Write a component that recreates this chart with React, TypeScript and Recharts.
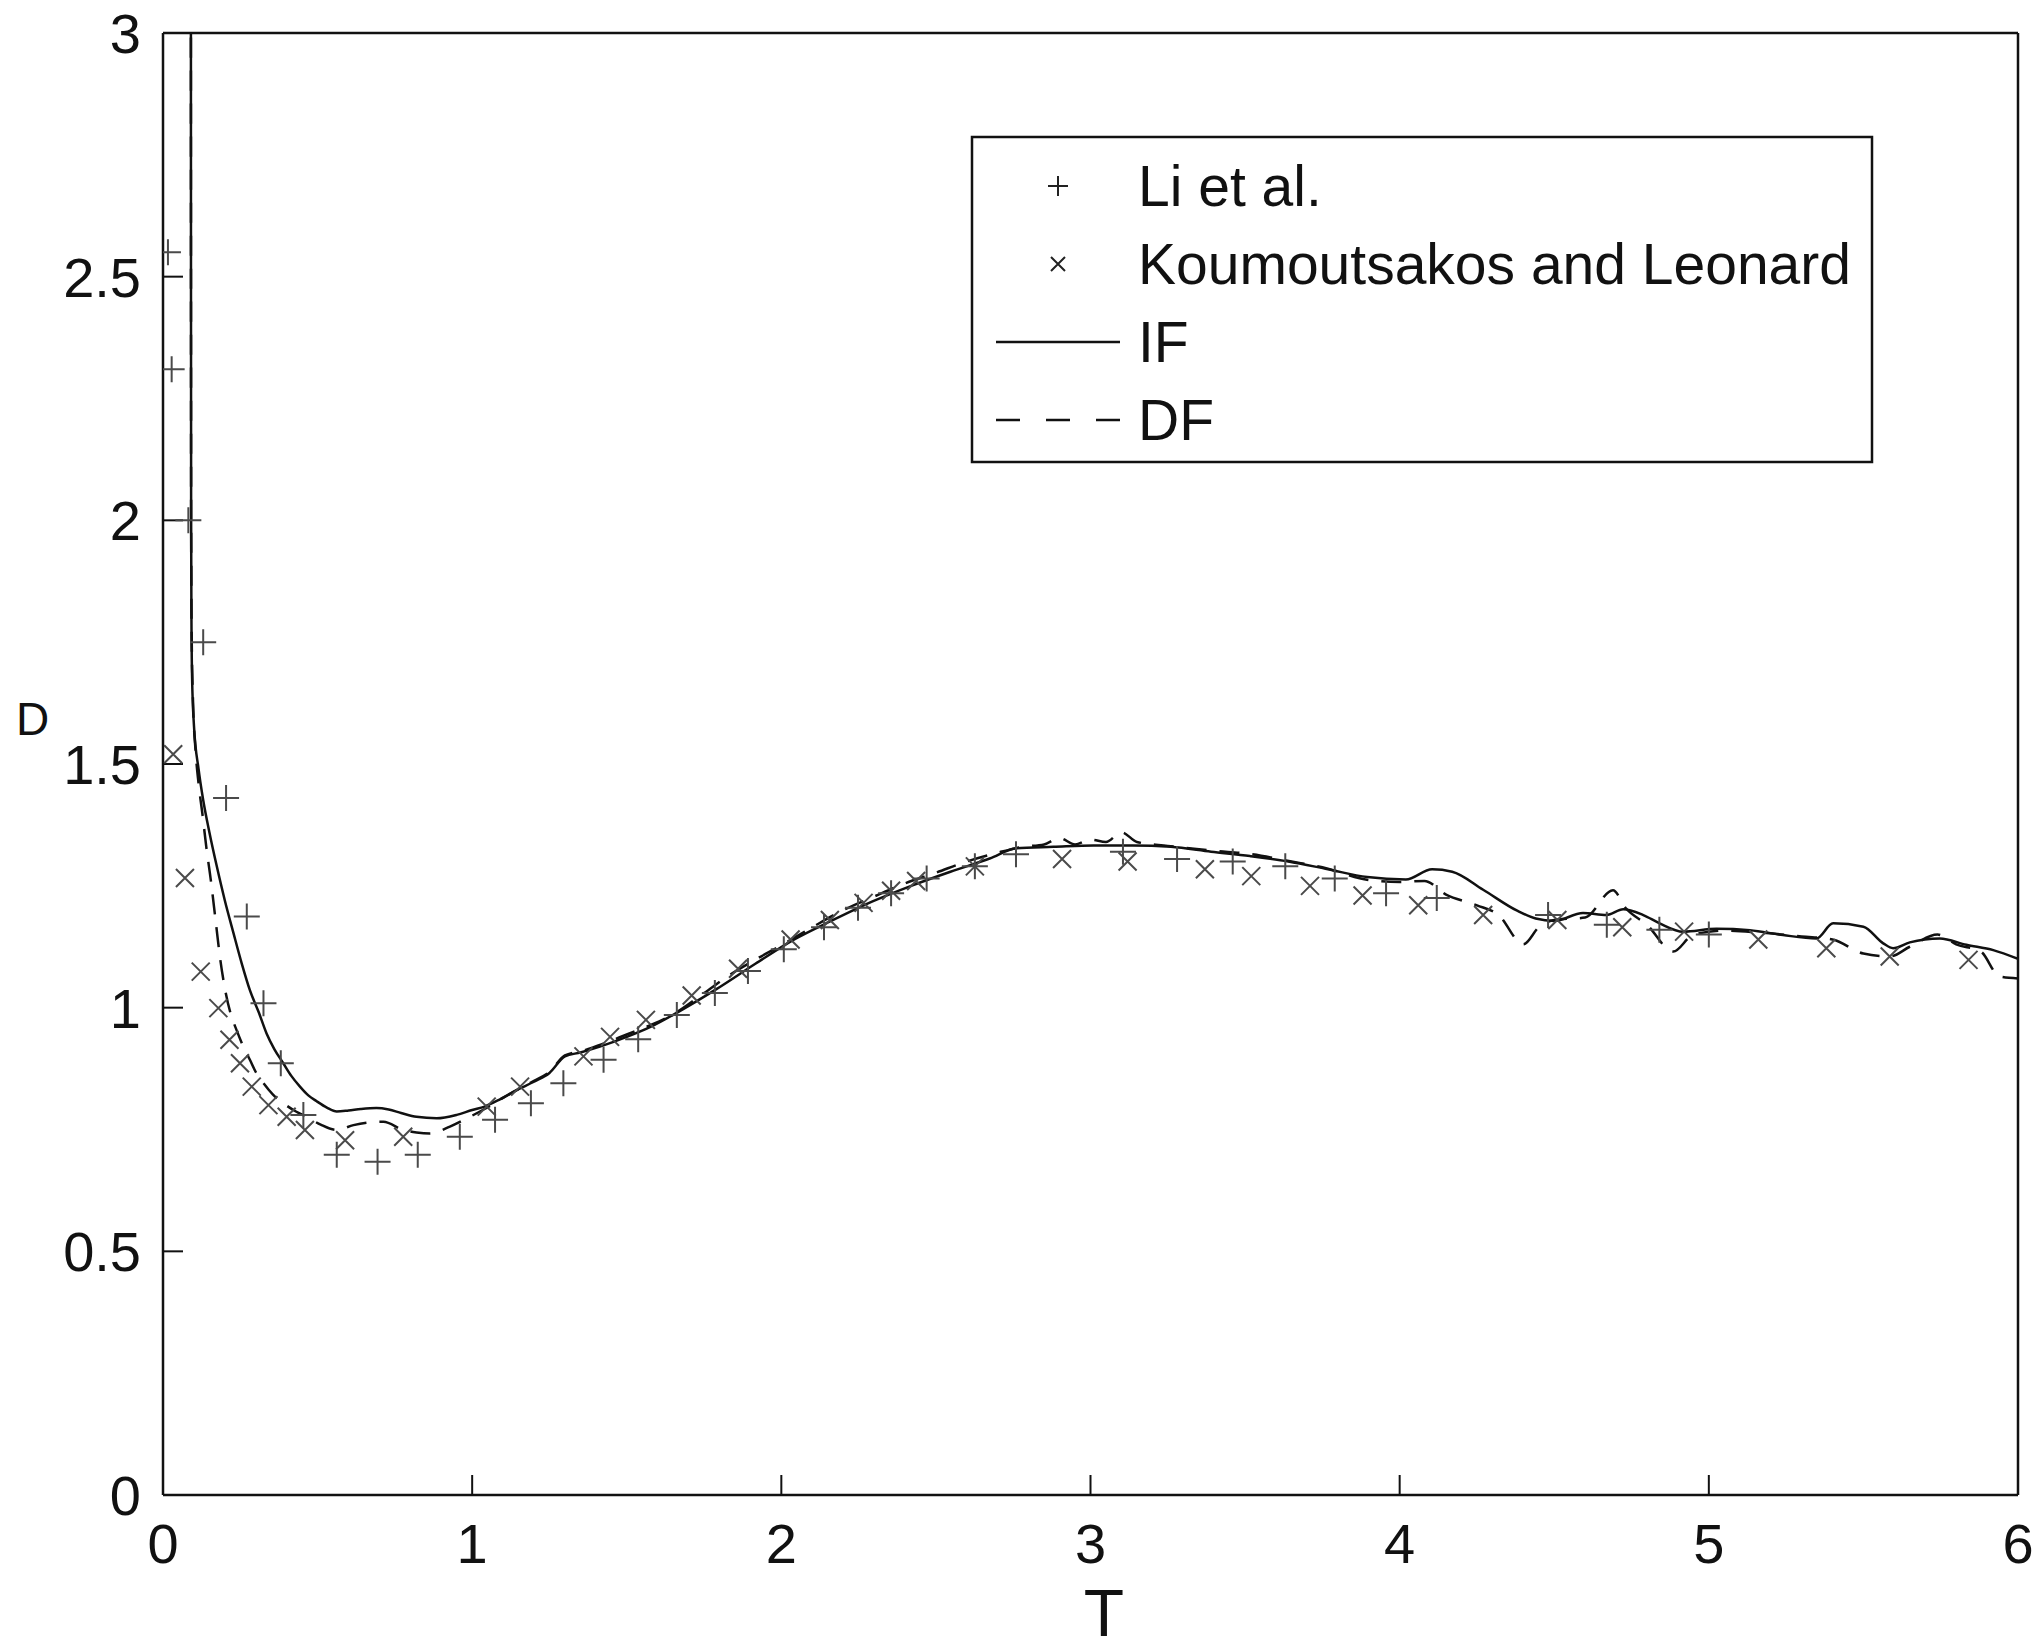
import React from 'react';
import { ComposedChart, Line, Scatter, XAxis, YAxis } from 'recharts';

// axis ticks
const xTicks = [0, 1, 2, 3, 4, 5, 6];
const yTicks = [0, 0.5, 1, 1.5, 2, 2.5, 3];

// IF (solid)
const ifT = [0.09, 0.0905, 0.091, 0.092, 0.094, 0.1, 0.115, 0.13, 0.15, 0.174, 0.2, 0.228, 0.255, 0.281, 0.31, 0.335, 0.36, 0.389, 0.415, 0.443, 0.47, 0.497, 0.53, 0.562, 0.6, 0.64, 0.69, 0.73, 0.77, 0.82, 0.885, 0.95, 1.0, 1.04, 1.09, 1.144, 1.2, 1.25, 1.3, 1.35, 1.413, 1.5, 1.575, 1.663, 1.79, 1.916, 2.042, 2.168, 2.295, 2.42, 2.547, 2.674, 2.76, 2.88, 3.01, 3.137, 3.26, 3.39, 3.516, 3.64, 3.768, 3.895, 4.02, 4.105, 4.17, 4.27, 4.38, 4.44, 4.5, 4.593, 4.669, 4.723, 4.788, 4.841, 4.917, 5.025, 5.133, 5.24, 5.348, 5.402, 5.5, 5.564, 5.596, 5.65, 5.747, 5.833, 5.92, 6.0];
const ifV = [3.6, 2.5, 2.0, 1.8, 1.68, 1.58, 1.49, 1.426, 1.36, 1.29, 1.22, 1.153, 1.09, 1.036, 0.99, 0.947, 0.915, 0.886, 0.86, 0.838, 0.82, 0.808, 0.795, 0.787, 0.789, 0.792, 0.794, 0.791, 0.784, 0.776, 0.773, 0.78, 0.79, 0.797, 0.812, 0.831, 0.848, 0.866, 0.9, 0.908, 0.92, 0.94, 0.96, 0.99, 1.038, 1.09, 1.14, 1.18, 1.218, 1.25, 1.279, 1.306, 1.327, 1.33, 1.333, 1.333, 1.33, 1.32, 1.311, 1.3, 1.284, 1.268, 1.263, 1.284, 1.279, 1.242, 1.199, 1.183, 1.178, 1.194, 1.19, 1.202, 1.19, 1.173, 1.156, 1.162, 1.159, 1.149, 1.142, 1.173, 1.166, 1.132, 1.122, 1.134, 1.142, 1.129, 1.118, 1.1];

// DF (dashed)
const dfT = [0.09, 0.0905, 0.091, 0.093, 0.097, 0.105, 0.115, 0.127, 0.14, 0.155, 0.17, 0.185, 0.2, 0.22, 0.238, 0.26, 0.281, 0.3, 0.325, 0.355, 0.389, 0.43, 0.465, 0.51, 0.562, 0.616, 0.66, 0.713, 0.777, 0.82, 0.863, 0.928, 0.98, 1.04, 1.1, 1.15, 1.2, 1.25, 1.3, 1.36, 1.42, 1.5, 1.58, 1.66, 1.75, 1.84, 1.92, 2.0, 2.1, 2.2, 2.3, 2.4, 2.5, 2.6, 2.7, 2.78, 2.85, 2.9, 2.95, 3.0, 3.05, 3.1, 3.15, 3.25, 3.4, 3.52, 3.65, 3.75, 3.9, 4.0, 4.08, 4.15, 4.25, 4.32, 4.4, 4.45, 4.5, 4.6, 4.69, 4.73, 4.8, 4.885, 4.95, 5.05, 5.186, 5.3, 5.4, 5.5, 5.585, 5.65, 5.74, 5.8, 5.88, 5.94, 6.0];
const dfV = [3.6, 2.5, 2.0, 1.75, 1.63, 1.53, 1.46, 1.4, 1.33, 1.26, 1.18, 1.1, 1.04, 0.985, 0.954, 0.92, 0.893, 0.868, 0.845, 0.822, 0.804, 0.787, 0.776, 0.76, 0.749, 0.759, 0.764, 0.766, 0.749, 0.744, 0.742, 0.756, 0.772, 0.792, 0.815, 0.833, 0.85, 0.868, 0.902, 0.912, 0.925, 0.945, 0.965, 0.99, 1.03, 1.07, 1.1, 1.128, 1.165, 1.2, 1.228, 1.255, 1.277, 1.3, 1.318, 1.33, 1.335, 1.348, 1.335, 1.345, 1.34, 1.36, 1.34, 1.332, 1.322, 1.315, 1.3, 1.288, 1.262, 1.258, 1.26, 1.232, 1.21, 1.19, 1.13, 1.165, 1.18, 1.185, 1.241, 1.205, 1.17, 1.115, 1.15, 1.158, 1.153, 1.146, 1.14, 1.111, 1.105, 1.125, 1.15, 1.13, 1.115, 1.064, 1.06];

// Li et al. (+)
const liT = [0.016, 0.028, 0.082, 0.13, 0.204, 0.271, 0.325, 0.381, 0.454, 0.562, 0.694, 0.824, 0.96, 1.074, 1.19, 1.295, 1.425, 1.537, 1.662, 1.785, 1.892, 2.008, 2.138, 2.248, 2.355, 2.47, 2.626, 2.759, 3.105, 3.28, 3.46, 3.63, 3.79, 3.956, 4.12, 4.48, 4.67, 4.84, 5.0];
const liV = [2.55, 2.31, 2.0, 1.75, 1.43, 1.187, 1.009, 0.886, 0.78, 0.698, 0.684, 0.698, 0.735, 0.77, 0.804, 0.845, 0.893, 0.935, 0.985, 1.03, 1.075, 1.12, 1.165, 1.205, 1.235, 1.265, 1.29, 1.315, 1.32, 1.305, 1.3, 1.29, 1.265, 1.235, 1.225, 1.19, 1.17, 1.16, 1.15];

// Koumoutsakos and Leonard (x)
const klT = [0.033, 0.071, 0.122, 0.179, 0.215, 0.249, 0.287, 0.341, 0.4, 0.459, 0.589, 0.777, 1.047, 1.155, 1.36, 1.446, 1.562, 1.71, 1.86, 2.03, 2.157, 2.266, 2.355, 2.436, 2.626, 2.908, 3.12, 3.37, 3.52, 3.71, 3.88, 4.06, 4.27, 4.51, 4.72, 4.92, 5.16, 5.38, 5.585, 5.84];
const klV = [1.52, 1.266, 1.074, 0.999, 0.934, 0.886, 0.838, 0.8, 0.776, 0.749, 0.728, 0.735, 0.797, 0.838, 0.9, 0.94, 0.975, 1.025, 1.08, 1.14, 1.18, 1.215, 1.24, 1.26, 1.29, 1.305, 1.3, 1.284, 1.27, 1.25, 1.23, 1.21, 1.19, 1.18, 1.165, 1.156, 1.14, 1.122, 1.105, 1.098];

const pts = (t: number[], v: number[]) => t.map((x, i) => ({ t: x, v: v[i] }));

const ifData = pts(ifT, ifV);
const dfData = pts(dfT, dfV);
const liData = pts(liT, liV);
const klData = pts(klT, klV);

const FONT = '"Liberation Sans", Arial, Helvetica, sans-serif';
const MARK = '#4a4a4a';

const PlusMark = (props: any) => {
  const { cx, cy } = props;
  const r = 13;
  return <path d={`M${cx - r},${cy}H${cx + r}M${cx},${cy - r}V${cy + r}`} stroke={MARK} strokeWidth={2} fill="none" />;
};

const CrossMark = (props: any) => {
  const { cx, cy } = props;
  const r = 9;
  return <path d={`M${cx - r},${cy - r}L${cx + r},${cy + r}M${cx - r},${cy + r}L${cx + r},${cy - r}`} stroke={MARK} strokeWidth={2} fill="none" />;
};

const axisLine = { stroke: '#111', strokeWidth: 2.5 };
const tickLine = { stroke: '#111', strokeWidth: 2 };
const tickText = { fill: '#111', fontSize: 56, fontFamily: FONT };

const LegendBox = () => (
  <svg width={904} height={329} style={{ position: 'absolute', left: 970, top: 135 }}>
    <rect x={2} y={2} width={900} height={325} fill="#fff" stroke="#111" strokeWidth={2.5} />
    <path d="M78,51H98M88,41V61" stroke="#222" strokeWidth={2} />
    <path d="M81,122L95,136M81,136L95,122" stroke="#222" strokeWidth={2} />
    <line x1={26} y1={207} x2={150} y2={207} stroke="#111" strokeWidth={2.5} />
    <line x1={26} y1={285} x2={150} y2={285} stroke="#111" strokeWidth={2.5} strokeDasharray="24 26" />
    <g fontFamily={FONT} fontSize={57} fill="#111">
      <text x={168} y={71}>Li et al.</text>
      <text x={168} y={149}>Koumoutsakos and Leonard</text>
      <text x={168} y={227}>IF</text>
      <text x={168} y={305}>DF</text>
    </g>
  </svg>
);

export default function App() {
  return (
    <div style={{ position: 'absolute', left: 0, top: 0, width: 2041, height: 1650, background: '#fff' }}>
      <ComposedChart width={2041} height={1650} margin={{ top: 32, right: 22, bottom: 154, left: 162 }}>
        <XAxis
          dataKey="t"
          type="number"
          domain={[0, 6]}
          ticks={xTicks}
          interval={0}
          allowDataOverflow
          height={1}
          tickSize={-20}
          tickMargin={48}
          axisLine={axisLine}
          tickLine={tickLine}
          tick={tickText}
        />
        <XAxis
          xAxisId="top"
          orientation="top"
          type="number"
          domain={[0, 6]}
          ticks={xTicks}
          interval={0}
          height={1}
          tickSize={-20}
          axisLine={axisLine}
          tickLine={tickLine}
          tick={false}
        />
        <YAxis
          type="number"
          domain={[0, 3]}
          ticks={yTicks}
          interval={0}
          allowDataOverflow
          width={1}
          tickSize={-20}
          tickMargin={42}
          axisLine={axisLine}
          tickLine={tickLine}
          tick={tickText}
        />
        <YAxis
          yAxisId="right"
          orientation="right"
          type="number"
          domain={[0, 3]}
          ticks={yTicks}
          interval={0}
          width={1}
          tickSize={-20}
          axisLine={axisLine}
          tickLine={tickLine}
          tick={false}
        />
        <Line data={ifData} dataKey="v" type="monotone" stroke="#111" strokeWidth={2.5} dot={false} activeDot={false} isAnimationActive={false} />
        <Line data={dfData} dataKey="v" type="monotone" stroke="#111" strokeWidth={2.5} strokeDasharray="20 13" dot={false} activeDot={false} isAnimationActive={false} />
        <Scatter data={liData} dataKey="v" shape={PlusMark} isAnimationActive={false} />
        <Scatter data={klData} dataKey="v" shape={CrossMark} isAnimationActive={false} />
      </ComposedChart>
      <LegendBox />
      <div style={{ position: 'absolute', left: 16, top: 696, fontFamily: FONT, fontSize: 46, lineHeight: 1, color: '#111' }}>D</div>
      <div style={{ position: 'absolute', left: 1064, top: 1580, width: 80, textAlign: 'center', fontFamily: FONT, fontSize: 66, lineHeight: 1, color: '#111' }}>T</div>
    </div>
  );
}
